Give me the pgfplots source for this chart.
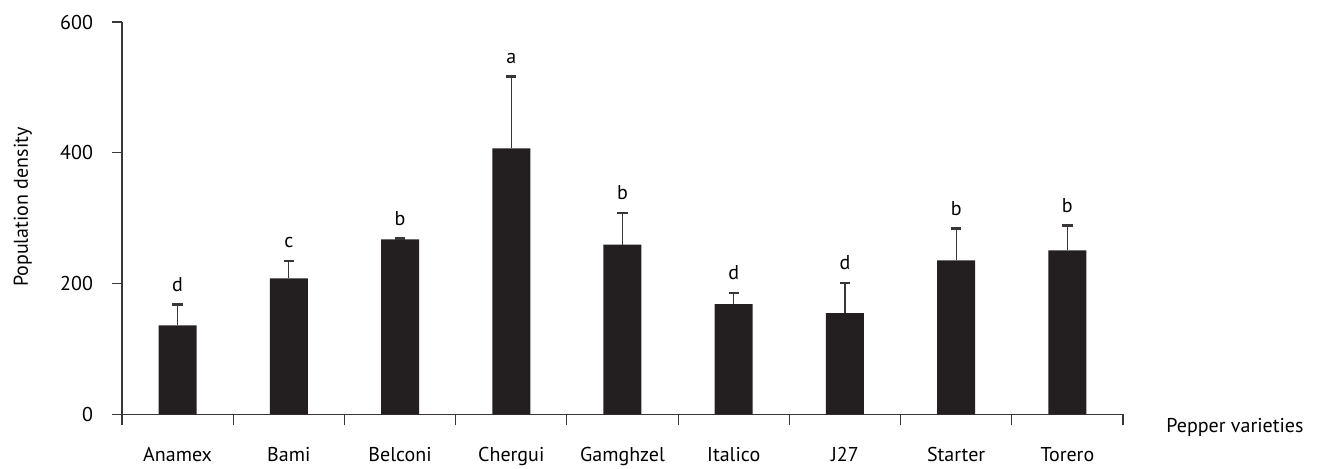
\documentclass[border=0pt]{standalone}
\usepackage{pgfplots}
\pgfplotsset{compat=1.18}
\usepackage{fontspec}
\setmainfont{PT Sans}
\definecolor{barc}{HTML}{231F20}
\definecolor{linec}{HTML}{3A3637}
\begin{document}
\begin{tikzpicture}
\path[use as bounding box] (0,0) rectangle (662pt,234pt);
\begin{axis}[
  at={(61pt,26.85pt)}, anchor=south west,
  scale only axis, width=500.5pt, height=196.15pt,
  xmin=0, xmax=9, ymin=0, ymax=600,
  axis x line=bottom, axis y line=left,
  axis line style={draw=linec, line width=0.6pt, -},
  xtick={0.5,1.5,...,8.5},
  xticklabels={Anamex,Bami,Belconi,Chergui,Gamghzel,Italico,J27,Starter,Torero},
  x tick style={draw=none},
  minor xtick={0,1,...,9},
  minor x tick style={draw=linec, line width=0.6pt},
  minor tick length=5.5pt,
  ytick={0,200,400,600},
  y tick style={draw=linec, line width=0.6pt},
  major tick length=5pt,
  tick align=outside,
  xticklabel style={yshift=-8pt, text=black},
  yticklabel style={xshift=-6pt, text=black},
  /pgf/number format/assume math mode=true,
  ylabel={Population density},
  y label style={at={(axis description cs:-0.099,0.528)}, anchor=center},
  xlabel={Pepper varieties},
  x label style={at={(axis description cs:1,0)}, anchor=west, inner sep=0pt, xshift=21.5pt, yshift=-6.5pt},
  clip=false,
]
\addplot[ybar, bar width=19pt, fill=barc, draw=none,
  error bars/.cd, y dir=plus, y explicit,
  error mark=|,
  error bar style={draw=linec, line width=0.6pt},
  error mark options={draw=linec, line width=1.2pt, mark size=2.6pt}]
  table[x=x, y=y, y error=e] {
  x   y     e
  0.5 136   32
  1.5 208   26.5
  2.5 267.6 1.5
  3.5 406.6 110
  4.5 259.5 48.3
  5.5 168.4 16.8
  6.5 154.7 45.8
  7.5 235.6 48.8
  8.5 250.9 38.1
  };
\addplot[only marks, mark=none,
  nodes near coords, point meta=explicit symbolic,
  every node near coord/.style={anchor=south, yshift=3pt, text=black}]
  table[x=x, y=y, meta=l] {
  x   y     l
  0.5 168   d
  1.5 234.5 c
  2.5 269.1 b
  3.5 516.6 a
  4.5 307.8 b
  5.5 185.2 d
  6.5 200.5 d
  7.5 284.4 b
  8.5 289   b
  };
\end{axis}
\end{tikzpicture}
\end{document}
